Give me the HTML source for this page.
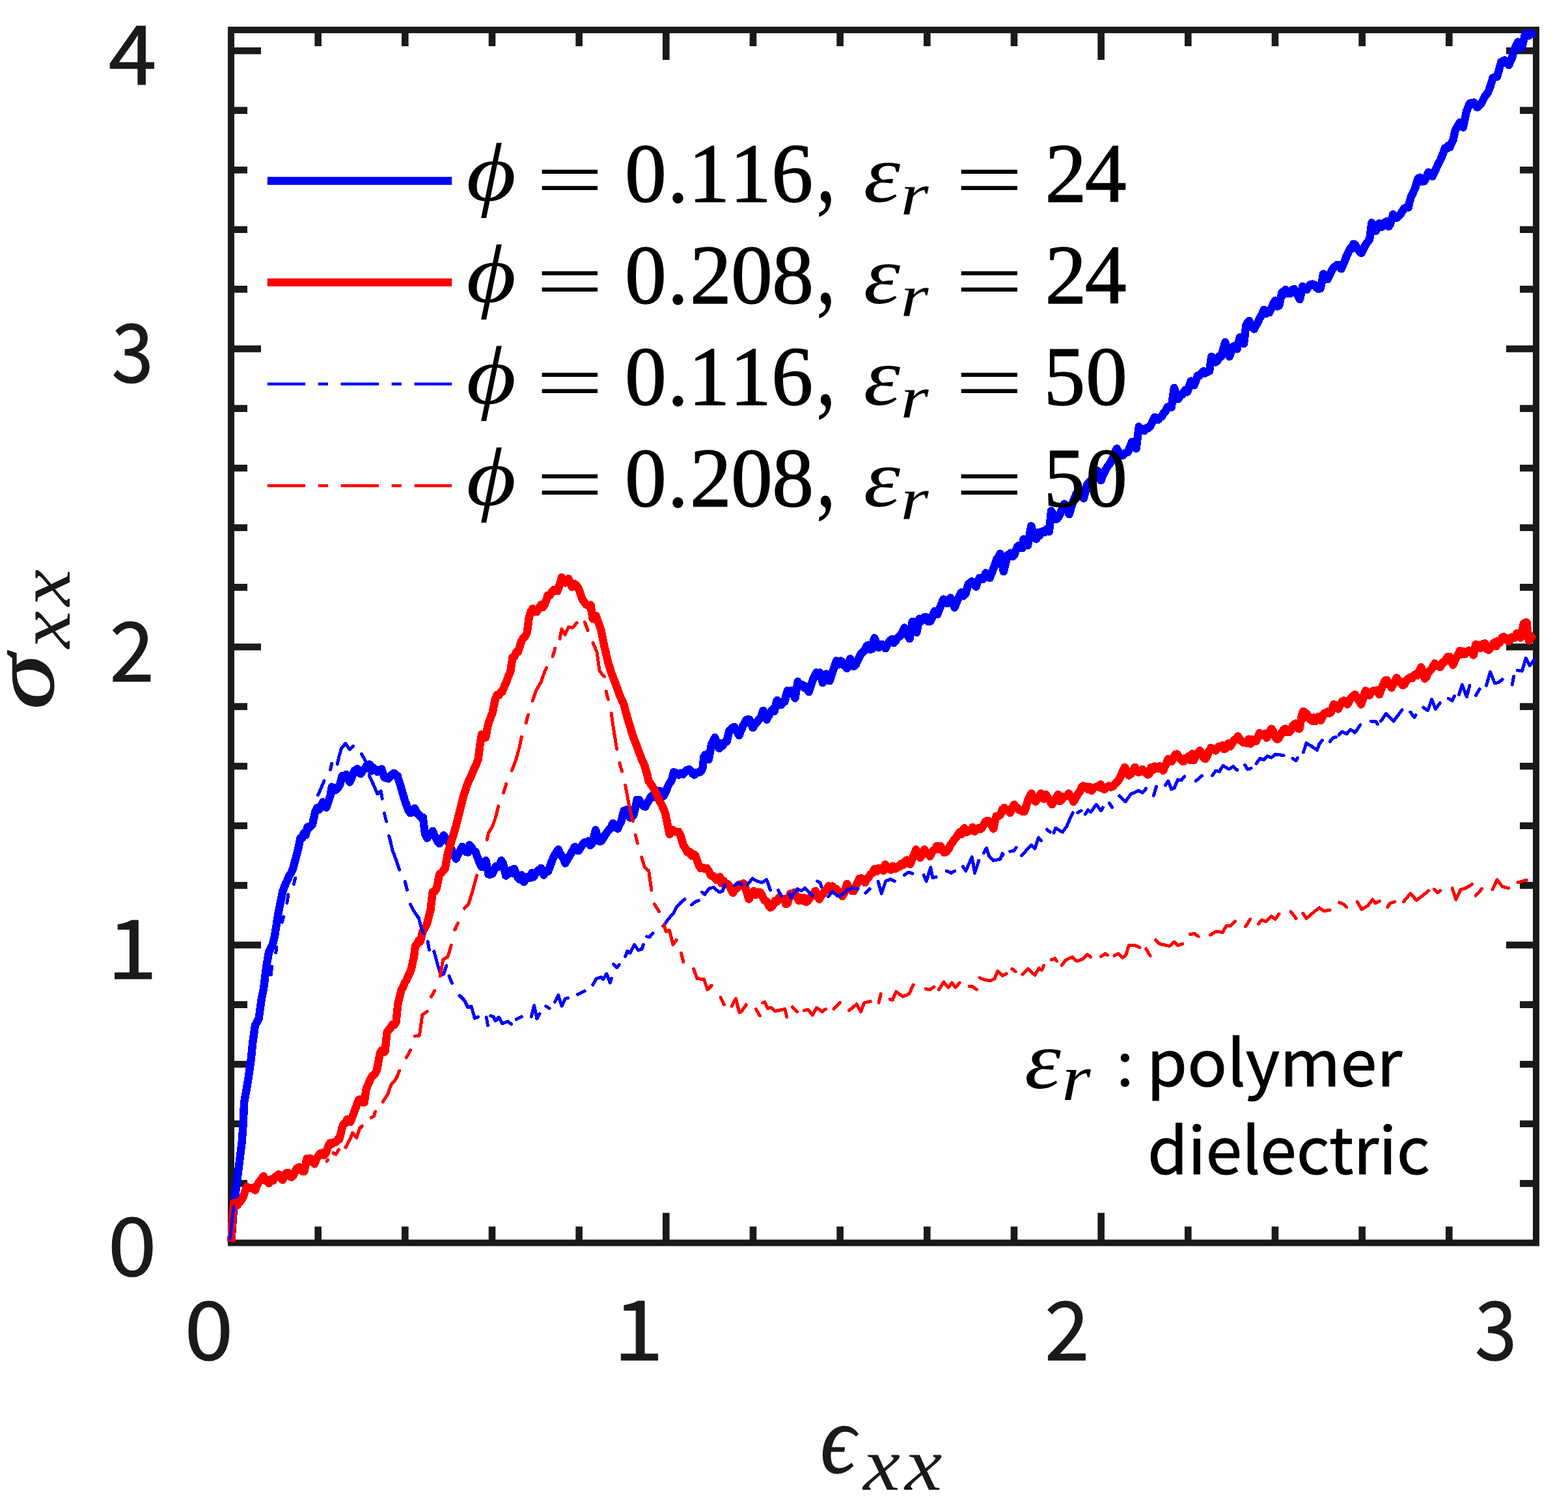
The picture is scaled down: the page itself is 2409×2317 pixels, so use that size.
<!DOCTYPE html>
<html lang="en"><head><meta charset="utf-8"><title>Stress-strain curves</title>
<style>html,body{margin:0;padding:0;background:#fefefe;}body{width:2409px;height:2317px;}svg{display:block;}text{white-space:pre;}</style></head><body>
<svg width="2409" height="2317" viewBox="0 0 2409 2317">
<rect x="0" y="0" width="2409" height="2317" fill="#fefefe"/>
<path d="M488.67 1909.60V1884.60M488.67 46.00V71.00M622.33 1909.60V1884.60M622.33 46.00V71.00M756.00 1909.60V1884.60M756.00 46.00V71.00M889.67 1909.60V1884.60M889.67 46.00V71.00M1023.33 1909.60V1863.60M1023.33 46.00V92.00M1157.00 1909.60V1884.60M1157.00 46.00V71.00M1290.67 1909.60V1884.60M1290.67 46.00V71.00M1424.33 1909.60V1884.60M1424.33 46.00V71.00M1558.00 1909.60V1884.60M1558.00 46.00V71.00M1691.67 1909.60V1863.60M1691.67 46.00V92.00M1825.33 1909.60V1884.60M1825.33 46.00V71.00M1959.00 1909.60V1884.60M1959.00 46.00V71.00M2092.67 1909.60V1884.60M2092.67 46.00V71.00M2226.33 1909.60V1884.60M2226.33 46.00V71.00M355.00 1818.40H380.00M2360.00 1818.40H2335.00M355.00 1726.80H380.00M2360.00 1726.80H2335.00M355.00 1635.20H380.00M2360.00 1635.20H2335.00M355.00 1543.60H380.00M2360.00 1543.60H2335.00M355.00 1452.00H401.00M2360.00 1452.00H2314.00M355.00 1360.40H380.00M2360.00 1360.40H2335.00M355.00 1268.80H380.00M2360.00 1268.80H2335.00M355.00 1177.20H380.00M2360.00 1177.20H2335.00M355.00 1085.60H380.00M2360.00 1085.60H2335.00M355.00 994.00H401.00M2360.00 994.00H2314.00M355.00 902.40H380.00M2360.00 902.40H2335.00M355.00 810.80H380.00M2360.00 810.80H2335.00M355.00 719.20H380.00M2360.00 719.20H2335.00M355.00 627.60H380.00M2360.00 627.60H2335.00M355.00 536.00H401.00M2360.00 536.00H2314.00M355.00 444.40H380.00M2360.00 444.40H2335.00M355.00 352.80H380.00M2360.00 352.80H2335.00M355.00 261.20H380.00M2360.00 261.20H2335.00M355.00 169.60H380.00M2360.00 169.60H2335.00M355.00 78.00H401.00M2360.00 78.00H2314.00" stroke="#1a1a1a" stroke-width="10.6" fill="none"/>
<rect x="355.00" y="46.00" width="2005.00" height="1863.60" fill="none" stroke="#1a1a1a" stroke-width="10"/>
<g fill="none" stroke-linejoin="round" stroke-linecap="butt" shape-rendering="crispEdges">
<path d="M355.3 1908.3 L358.0 1870.1 L361.2 1838.3 L363.9 1817.0 L366.5 1795.9 L369.2 1774.7 L371.8 1753.4 L374.0 1721.6 L375.0 1694.0 L378.2 1677.0 L381.4 1657.9 L383.5 1643.0 L385.6 1628.2 L388.4 1600.6 L390.2 1587.9 L392.0 1575.2 L394.9 1570.2 L397.7 1564.6 L399.6 1550.7 L401.5 1537.0 L403.2 1528.2 L404.9 1520.0 L406.9 1503.4 L409.0 1486.7 L411.0 1474.9 L413.0 1463.3 L415.9 1456.8 L418.7 1451.7 L421.7 1440.0 L424.5 1422.7 L427.2 1405.0 L429.5 1393.3 L431.9 1381.8 L434.2 1370.0 L436.3 1364.1 L438.5 1358.3 L441.4 1352.8 L444.3 1345.7 L447.2 1341.2 L450.1 1335.0 L452.7 1325.2 L455.4 1314.7 L458.0 1304.6 L459.7 1296.3 L461.4 1287.6 L464.1 1288.0 L466.8 1280.2 L469.4 1283.4 L472.6 1270.7 L475.1 1271.9 L477.6 1268.8 L480.1 1266.4 L482.2 1256.7 L484.3 1247.3 L487.1 1241.3 L490.0 1244.1 L492.8 1238.8 L496.0 1232.5 L498.6 1236.6 L501.3 1241.0 L504.5 1231.7 L507.6 1221.9 L509.8 1209.1 L512.9 1214.8 L516.1 1213.4 L519.3 1210.2 L522.5 1204.9 L525.7 1192.1 L528.9 1196.2 L532.0 1190.0 L534.7 1195.6 L537.3 1201.7 L539.8 1196.3 L542.3 1189.6 L544.8 1183.7 L546.9 1187.3 L549.0 1181.5 L551.7 1187.0 L554.3 1189.0 L557.5 1183.0 L560.7 1181.5 L562.8 1177.0 L564.9 1177.3 L567.8 1174.4 L570.6 1184.6 L573.4 1179.4 L576.6 1182.2 L579.8 1185.8 L583.0 1184.8 L586.2 1181.5 L588.3 1187.6 L590.4 1194.3 L593.6 1195.4 L596.8 1196.4 L599.6 1192.8 L602.4 1189.7 L605.3 1187.9 L607.9 1190.7 L610.6 1192.1 L613.2 1200.7 L615.9 1209.1 L619.0 1220.2 L622.2 1230.3 L624.9 1238.0 L627.5 1245.2 L630.7 1249.3 L633.9 1247.4 L637.1 1242.0 L640.3 1248.8 L643.4 1251.6 L646.6 1255.3 L649.8 1255.8 L653.0 1281.3 L656.2 1287.6 L659.0 1282.3 L661.8 1282.5 L664.7 1277.0 L667.3 1283.6 L670.0 1287.6 L672.6 1293.4 L675.3 1296.1 L678.5 1289.9 L681.6 1283.4 L684.8 1288.7 L688.0 1291.9 L690.7 1297.7 L693.3 1304.6 L695.8 1310.5 L698.3 1314.7 L700.7 1319.5 L703.9 1312.5 L707.1 1306.7 L710.3 1300.9 L713.5 1306.7 L716.1 1309.2 L718.8 1309.4 L721.4 1298.3 L724.1 1301.4 L727.3 1306.9 L730.5 1308.9 L733.6 1317.2 L736.8 1325.8 L740.0 1332.2 L743.2 1325.8 L746.4 1322.2 L748.5 1332.7 L750.6 1343.4 L753.4 1343.6 L756.3 1342.4 L759.1 1337.0 L761.9 1331.1 L764.8 1332.1 L767.6 1328.5 L770.2 1322.2 L772.9 1326.4 L775.0 1336.1 L777.1 1345.5 L779.6 1341.7 L782.1 1342.1 L784.6 1337.0 L787.2 1341.5 L789.9 1334.9 L792.5 1341.3 L795.2 1347.6 L798.4 1351.4 L801.5 1344.5 L804.7 1355.1 L807.2 1351.3 L809.7 1347.3 L812.1 1347.6 L814.6 1349.0 L817.1 1341.3 L819.6 1347.6 L822.1 1342.8 L824.5 1340.2 L827.0 1337.0 L829.1 1336.4 L831.2 1333.8 L833.4 1338.5 L835.5 1344.5 L838.7 1338.2 L841.9 1339.2 L845.0 1331.3 L848.2 1322.2 L851.4 1315.3 L854.6 1309.4 L857.8 1305.2 L860.2 1311.0 L862.7 1315.0 L865.2 1317.9 L868.4 1326.4 L871.6 1320.7 L874.7 1315.8 L877.6 1310.7 L880.4 1306.0 L883.2 1301.0 L885.9 1304.9 L888.5 1307.3 L891.4 1303.5 L894.2 1299.1 L897.0 1294.6 L900.2 1295.0 L903.4 1292.5 L906.6 1298.8 L909.8 1295.6 L912.4 1285.6 L915.1 1275.5 L917.7 1283.9 L920.4 1292.5 L923.6 1292.4 L926.7 1288.2 L929.6 1282.9 L932.4 1278.9 L935.2 1275.5 L938.4 1271.9 L941.6 1264.9 L944.1 1267.8 L946.5 1270.8 L949.0 1273.4 L951.7 1266.8 L954.3 1262.8 L956.4 1254.2 L958.6 1245.8 L960.7 1245.6 L962.8 1243.7 L965.5 1249.1 L968.1 1256.4 L970.8 1255.2 L973.4 1252.1 L976.1 1240.6 L978.7 1228.8 L981.9 1229.0 L985.1 1235.2 L988.3 1238.5 L991.5 1239.4 L993.9 1234.7 L996.4 1230.8 L998.9 1225.6 L1001.5 1222.7 L1004.2 1225.2 L1006.8 1224.2 L1009.5 1220.3 L1012.1 1214.7 L1014.8 1215.7 L1017.5 1224.2 L1020.1 1222.4 L1022.8 1217.0 L1025.4 1209.7 L1028.6 1203.5 L1031.8 1199.1 L1035.0 1186.4 L1037.8 1187.3 L1040.6 1190.2 L1043.4 1190.6 L1046.6 1187.7 L1049.8 1189.5 L1052.6 1186.0 L1055.5 1183.2 L1058.3 1182.1 L1061.1 1184.1 L1064.0 1188.4 L1066.8 1190.6 L1069.6 1187.0 L1072.4 1186.5 L1075.3 1186.4 L1077.4 1184.3 L1079.5 1180.0 L1081.4 1162.9 L1083.9 1159.5 L1086.3 1166.4 L1088.8 1167.1 L1090.9 1155.5 L1093.1 1143.8 L1095.7 1138.0 L1098.4 1133.2 L1100.5 1139.1 L1102.6 1145.9 L1105.1 1150.0 L1107.6 1142.4 L1110.0 1145.9 L1113.2 1140.6 L1116.4 1139.5 L1118.5 1131.0 L1120.6 1122.5 L1122.8 1121.8 L1124.9 1118.3 L1128.1 1116.7 L1131.2 1122.5 L1133.4 1125.7 L1135.5 1130.0 L1138.7 1121.7 L1141.9 1114.1 L1144.0 1111.4 L1146.1 1106.6 L1148.8 1105.3 L1151.4 1105.6 L1154.1 1112.6 L1156.7 1118.3 L1159.9 1112.5 L1163.1 1109.8 L1165.7 1105.7 L1168.4 1103.4 L1170.5 1097.8 L1172.6 1091.8 L1175.3 1099.3 L1177.9 1105.6 L1181.1 1099.6 L1184.3 1093.9 L1186.9 1089.8 L1189.6 1092.8 L1191.7 1084.1 L1193.8 1075.9 L1197.0 1079.7 L1200.2 1083.3 L1202.9 1078.6 L1205.5 1078.0 L1207.6 1069.7 L1209.8 1061.0 L1212.9 1065.6 L1216.1 1061.0 L1218.8 1066.1 L1221.4 1072.7 L1223.6 1059.9 L1225.7 1047.2 L1228.2 1051.7 L1230.6 1052.0 L1233.1 1052.5 L1235.8 1057.1 L1238.4 1054.6 L1240.5 1058.5 L1242.7 1063.1 L1245.8 1053.1 L1249.0 1044.0 L1251.7 1038.2 L1254.3 1033.4 L1257.0 1037.4 L1259.6 1033.4 L1261.8 1041.2 L1263.9 1049.3 L1266.5 1042.2 L1269.2 1035.5 L1271.8 1040.6 L1274.5 1046.2 L1277.0 1039.0 L1279.4 1031.9 L1281.9 1024.9 L1285.1 1015.4 L1288.3 1021.0 L1291.5 1015.4 L1294.1 1017.5 L1296.8 1022.8 L1298.9 1021.6 L1301.0 1027.1 L1303.7 1020.3 L1306.3 1012.2 L1309.0 1018.9 L1311.6 1023.9 L1314.8 1021.1 L1318.0 1014.3 L1320.6 1008.8 L1323.3 1003.7 L1326.1 1001.9 L1328.9 997.9 L1331.8 992.0 L1334.3 991.3 L1336.7 997.8 L1339.2 997.3 L1341.3 989.1 L1343.4 980.4 L1346.6 988.1 L1349.8 995.2 L1352.5 992.7 L1355.1 989.9 L1357.8 991.9 L1360.4 996.3 L1363.1 991.0 L1365.7 986.7 L1368.2 983.5 L1370.7 981.8 L1373.2 987.8 L1376.0 985.1 L1378.8 980.2 L1381.6 978.2 L1384.3 975.2 L1386.9 969.8 L1389.6 964.4 L1392.3 970.8 L1394.9 977.2 L1397.6 981.4 L1399.7 968.2 L1401.8 954.9 L1405.0 964.1 L1408.2 971.9 L1410.3 961.5 L1412.4 950.7 L1414.9 954.9 L1417.4 950.2 L1419.8 948.5 L1423.0 948.5 L1426.2 954.9 L1428.9 954.8 L1431.5 950.7 L1433.6 944.3 L1435.8 939.0 L1437.9 940.6 L1440.0 944.3 L1442.1 939.2 L1444.2 933.5 L1446.9 927.2 L1449.5 920.7 L1452.2 923.5 L1454.9 927.1 L1457.5 924.5 L1460.2 918.6 L1463.3 926.3 L1466.5 933.5 L1469.2 926.8 L1471.8 920.7 L1474.5 914.8 L1477.1 910.1 L1480.3 915.6 L1483.5 912.3 L1485.6 904.8 L1487.7 897.4 L1490.4 897.6 L1493.1 893.2 L1496.2 896.7 L1499.4 901.6 L1502.1 894.2 L1504.7 887.9 L1507.4 889.3 L1510.0 890.0 L1512.1 885.9 L1514.3 880.4 L1517.5 882.3 L1520.6 887.9 L1523.8 880.4 L1527.0 871.9 L1529.1 866.1 L1531.2 859.2 L1533.9 856.1 L1536.6 850.7 L1539.2 864.7 L1541.9 878.3 L1545.0 865.2 L1548.2 852.8 L1550.3 852.4 L1552.5 849.7 L1555.6 855.1 L1558.8 851.8 L1561.0 845.2 L1563.1 840.1 L1565.6 838.0 L1568.0 838.6 L1570.5 842.2 L1572.6 828.4 L1575.8 833.3 L1579.0 838.0 L1581.6 823.1 L1584.3 808.3 L1586.9 817.3 L1589.6 826.3 L1592.1 828.4 L1594.6 818.5 L1597.0 823.1 L1599.9 817.1 L1602.7 816.0 L1605.5 817.8 L1608.7 812.4 L1611.9 816.8 L1615.1 784.9 L1618.2 790.1 L1621.4 797.7 L1623.9 797.6 L1626.4 794.1 L1628.9 789.2 L1632.0 780.9 L1635.2 774.3 L1637.7 779.6 L1640.2 784.5 L1642.7 790.2 L1645.8 779.9 L1649.0 770.1 L1651.7 763.4 L1654.3 757.3 L1657.0 760.7 L1659.6 762.3 L1662.3 762.6 L1664.9 765.8 L1667.6 755.0 L1670.2 744.6 L1672.7 741.8 L1675.2 738.5 L1677.7 742.5 L1680.5 736.3 L1683.3 730.2 L1686.2 723.4 L1688.8 730.6 L1691.5 738.2 L1693.9 731.7 L1696.4 726.2 L1698.9 721.3 L1701.7 716.5 L1704.5 713.2 L1707.4 708.5 L1710.2 702.8 L1713.0 695.5 L1715.9 689.4 L1718.7 694.6 L1721.5 697.2 L1724.4 700.1 L1727.2 697.6 L1730.0 695.3 L1732.8 694.7 L1736.0 686.8 L1739.2 678.8 L1742.4 684.9 L1745.6 689.4 L1747.7 672.5 L1749.8 655.5 L1752.6 659.3 L1755.5 659.4 L1758.3 661.9 L1761.1 657.5 L1764.0 657.9 L1766.8 655.5 L1768.9 651.8 L1771.0 647.0 L1773.9 640.9 L1776.7 644.6 L1779.5 644.9 L1782.4 641.0 L1785.2 639.8 L1788.0 634.3 L1790.7 631.7 L1793.3 625.8 L1796.5 624.1 L1799.7 625.8 L1801.8 611.0 L1803.9 596.1 L1807.1 605.0 L1810.3 613.1 L1812.8 608.8 L1815.2 607.2 L1817.7 604.6 L1820.9 598.9 L1824.1 602.4 L1826.7 594.3 L1829.4 585.5 L1832.0 589.5 L1834.7 591.8 L1837.3 585.0 L1840.0 577.0 L1842.8 577.2 L1845.7 573.9 L1848.5 570.3 L1851.7 573.4 L1854.9 571.1 L1858.0 570.3 L1861.2 548.0 L1864.4 550.3 L1867.6 556.5 L1870.4 554.3 L1873.2 547.5 L1876.1 548.0 L1879.3 536.5 L1882.4 525.7 L1885.6 537.1 L1888.8 548.0 L1892.0 539.2 L1895.2 532.1 L1897.8 530.9 L1900.5 536.3 L1902.6 527.0 L1904.7 518.3 L1907.9 524.7 L1911.1 527.9 L1914.3 500.3 L1916.7 495.6 L1919.2 492.9 L1921.7 498.1 L1924.4 503.4 L1927.0 505.6 L1929.5 499.6 L1932.0 496.6 L1934.4 490.7 L1936.9 486.2 L1939.4 481.7 L1941.9 475.9 L1944.7 482.1 L1947.5 479.5 L1950.3 480.1 L1953.5 473.3 L1956.7 465.3 L1959.5 461.7 L1962.4 471.0 L1965.2 469.5 L1967.3 459.4 L1969.4 449.3 L1972.3 452.5 L1975.1 444.8 L1977.9 450.4 L1980.4 450.8 L1982.9 450.7 L1985.4 445.1 L1988.5 444.3 L1991.7 450.4 L1994.4 454.6 L1997.0 459.9 L1999.2 449.9 L2001.3 439.8 L2004.5 445.0 L2007.6 445.1 L2010.5 440.5 L2013.3 437.3 L2016.1 436.6 L2019.3 437.3 L2022.5 441.9 L2025.7 444.0 L2028.9 443.0 L2031.0 431.9 L2033.1 420.7 L2036.3 424.4 L2039.5 429.2 L2041.9 423.9 L2044.4 419.0 L2046.9 414.3 L2049.4 410.8 L2051.8 408.8 L2054.3 406.9 L2057.5 407.3 L2060.7 413.3 L2063.2 407.3 L2065.6 402.2 L2068.1 395.2 L2071.3 388.1 L2074.5 381.4 L2077.0 381.9 L2079.4 374.9 L2081.9 376.1 L2085.1 381.3 L2088.3 385.9 L2091.5 388.9 L2094.6 383.0 L2097.8 376.1 L2101.0 372.0 L2104.2 367.6 L2107.4 342.2 L2110.6 348.5 L2113.7 354.9 L2116.4 349.4 L2119.0 343.2 L2122.2 349.1 L2125.4 346.4 L2128.1 341.4 L2130.7 340.1 L2133.4 348.0 L2136.0 344.3 L2138.1 337.3 L2140.3 329.4 L2143.4 332.2 L2146.6 334.7 L2149.1 331.3 L2151.6 329.5 L2154.1 325.2 L2157.2 320.2 L2160.4 318.8 L2163.6 318.8 L2165.7 310.1 L2167.9 301.9 L2171.0 295.7 L2174.2 289.1 L2176.3 281.5 L2178.5 274.3 L2181.6 272.7 L2184.8 279.2 L2188.0 278.5 L2191.2 272.7 L2194.4 264.7 L2197.6 266.5 L2200.7 271.1 L2203.9 264.7 L2207.1 257.3 L2210.3 250.7 L2213.5 244.6 L2216.7 236.7 L2219.8 227.6 L2222.3 228.3 L2224.8 223.8 L2227.3 226.5 L2229.9 220.0 L2232.6 214.9 L2235.8 200.0 L2242.8 188.1 L2247.9 195.7 L2250.4 184.2 L2252.9 171.5 L2258.0 158.8 L2264.4 157.5 L2269.5 165.1 L2275.9 158.8 L2281.0 148.6 L2286.0 142.2 L2289.9 132.0 L2293.7 119.3 L2300.1 118.0 L2303.9 104.0 L2306.4 95.1 L2311.5 92.6 L2317.9 100.2 L2323.0 88.8 L2326.8 76.0 L2331.9 64.6 L2338.2 73.5 L2340.8 62.0 L2343.3 51.8 L2348.4 55.0 L2353.5 51.8 L2358.0 48.3" stroke="#0000ff" stroke-width="12.4"/>
<path d="M355.3 1908.3 L356.6 1880.7 L358.0 1859.5 L359.5 1847.9 L362.0 1848.6 L364.4 1852.1 L366.5 1847.6 L368.6 1846.8 L371.3 1843.1 L374.0 1838.3 L376.6 1830.2 L379.3 1823.4 L382.4 1824.9 L385.6 1825.6 L388.8 1825.7 L392.0 1828.8 L394.6 1821.9 L397.3 1817.1 L399.4 1814.5 L401.5 1811.8 L404.7 1807.2 L407.9 1813.9 L410.6 1815.5 L413.2 1818.1 L416.4 1812.0 L419.6 1813.9 L422.4 1808.3 L425.2 1807.1 L428.1 1804.4 L431.2 1810.2 L434.4 1812.8 L437.1 1806.5 L439.7 1802.2 L442.6 1802.0 L445.4 1807.6 L448.2 1808.6 L450.7 1805.9 L453.2 1800.4 L455.6 1795.9 L458.8 1793.6 L462.0 1793.7 L464.7 1799.5 L467.3 1800.1 L469.4 1789.8 L471.6 1779.9 L474.0 1785.1 L476.5 1779.7 L479.0 1783.1 L481.1 1783.9 L483.2 1788.4 L485.9 1781.7 L488.5 1776.8 L491.7 1772.6 L494.9 1771.5 L498.1 1775.1 L501.3 1770.4 L504.5 1760.8 L507.6 1755.8 L510.8 1757.4 L514.0 1754.5 L516.5 1754.5 L519.0 1750.4 L521.4 1750.2 L523.6 1741.3 L525.7 1732.2 L528.3 1726.6 L531.0 1725.8 L533.5 1719.7 L535.9 1720.8 L538.4 1723.7 L541.6 1715.5 L544.8 1706.7 L548.0 1698.1 L551.1 1689.8 L554.0 1689.2 L556.8 1693.5 L559.6 1694.0 L562.8 1672.8 L566.0 1665.3 L569.2 1657.9 L572.4 1652.7 L575.5 1650.9 L578.7 1645.2 L581.4 1631.5 L584.0 1617.6 L586.5 1613.7 L589.0 1617.1 L591.5 1615.5 L594.6 1585.8 L597.5 1582.0 L600.3 1579.7 L603.1 1574.1 L605.8 1574.8 L608.4 1570.9 L611.6 1541.2 L614.3 1530.4 L616.9 1520.0 L619.4 1516.9 L621.9 1509.7 L624.4 1506.2 L626.8 1500.4 L629.3 1495.4 L631.8 1489.2 L633.9 1479.5 L636.0 1470.1 L638.1 1453.2 L640.6 1450.9 L643.1 1445.3 L645.6 1446.8 L647.7 1438.4 L649.8 1429.8 L653.0 1425.5 L656.2 1419.2 L658.8 1408.7 L661.5 1398.0 L664.7 1370.4 L667.9 1369.7 L671.0 1364.0 L673.2 1353.3 L675.3 1342.8 L678.1 1341.3 L680.9 1337.8 L683.8 1334.3 L685.9 1322.7 L688.0 1311.0 L691.2 1300.3 L694.4 1289.8 L697.6 1279.5 L700.7 1268.5 L703.4 1258.3 L706.0 1247.3 L709.2 1234.6 L712.4 1221.9 L714.9 1215.0 L717.4 1207.1 L719.8 1200.6 L722.7 1194.7 L725.5 1188.2 L728.3 1181.5 L731.5 1175.1 L734.7 1166.7 L737.9 1141.2 L740.0 1128.5 L743.1 1133.6 L746.1 1133.2 L748.2 1122.4 L750.3 1111.9 L753.5 1103.3 L756.7 1095.0 L758.8 1084.4 L761.0 1073.7 L763.6 1067.9 L766.3 1068.2 L768.9 1063.6 L771.6 1063.1 L774.7 1054.9 L777.9 1048.3 L781.1 1039.1 L784.3 1031.3 L787.5 1010.1 L790.3 1009.1 L793.1 1001.9 L796.0 1001.6 L798.6 992.8 L801.3 984.6 L804.1 979.9 L806.9 977.7 L809.8 971.9 L812.9 948.5 L815.1 941.1 L818.2 935.2 L821.4 939.7 L824.6 940.1 L827.8 934.9 L831.0 929.4 L834.2 933.0 L837.3 927.3 L839.5 921.4 L841.6 914.6 L844.8 914.8 L848.0 909.3 L850.8 906.0 L853.6 907.5 L856.4 908.2 L858.6 901.7 L860.7 895.5 L862.8 887.0 L865.5 892.7 L868.1 895.5 L870.8 894.8 L873.4 889.1 L876.1 894.8 L878.7 901.9 L881.9 896.8 L885.1 898.7 L887.7 902.6 L890.4 908.2 L892.5 914.2 L894.6 921.0 L897.8 925.1 L901.0 929.4 L904.2 930.6 L907.4 929.4 L910.6 950.7 L913.0 948.4 L915.5 945.9 L918.0 952.8 L920.6 960.1 L923.3 967.6 L925.4 978.2 L927.5 988.9 L930.2 1000.6 L932.8 1012.2 L936.0 1023.3 L939.2 1033.4 L942.4 1042.2 L945.6 1050.4 L948.8 1058.9 L951.9 1067.4 L955.1 1075.0 L958.3 1082.2 L961.5 1094.1 L964.7 1105.6 L967.9 1115.7 L971.0 1126.8 L974.2 1135.9 L977.4 1143.8 L980.6 1152.7 L983.8 1160.7 L986.9 1169.0 L990.1 1175.6 L992.3 1183.3 L994.4 1190.5 L996.5 1200.0 L998.7 1202.8 L1000.9 1206.0 L1003.1 1209.7 L1006.3 1215.0 L1009.5 1222.4 L1012.7 1229.2 L1015.9 1235.2 L1019.0 1241.7 L1022.2 1250.0 L1024.4 1260.4 L1026.5 1271.2 L1028.6 1281.9 L1031.4 1277.3 L1034.3 1275.4 L1037.1 1277.6 L1039.9 1278.4 L1042.7 1278.0 L1045.6 1284.0 L1047.7 1290.9 L1049.8 1298.8 L1053.0 1302.9 L1056.2 1309.4 L1059.4 1308.9 L1062.5 1314.7 L1065.2 1312.5 L1067.9 1313.7 L1070.5 1320.4 L1073.2 1328.5 L1076.3 1334.1 L1079.5 1332.8 L1082.7 1334.8 L1085.9 1333.8 L1089.1 1338.6 L1092.3 1345.5 L1095.1 1345.5 L1097.9 1348.4 L1100.7 1351.9 L1103.4 1350.3 L1106.0 1347.4 L1108.7 1357.3 L1111.4 1352.9 L1114.2 1359.2 L1117.0 1357.6 L1119.8 1360.4 L1123.0 1366.2 L1126.2 1372.0 L1129.4 1366.0 L1132.6 1364.6 L1135.0 1359.2 L1137.5 1360.2 L1140.0 1360.4 L1142.1 1357.2 L1144.2 1360.4 L1147.4 1371.3 L1150.6 1381.6 L1153.1 1376.2 L1155.6 1371.5 L1158.0 1368.9 L1161.2 1375.3 L1164.4 1370.6 L1167.6 1371.0 L1170.1 1374.0 L1172.5 1379.6 L1175.0 1383.7 L1177.8 1384.8 L1180.7 1390.9 L1183.5 1394.3 L1186.0 1392.9 L1188.5 1388.9 L1190.9 1383.7 L1193.8 1385.5 L1196.6 1379.3 L1199.4 1381.6 L1202.1 1381.9 L1204.7 1381.5 L1207.4 1389.1 L1210.0 1388.0 L1212.1 1380.6 L1214.3 1373.1 L1217.5 1375.4 L1220.6 1371.0 L1223.8 1376.9 L1227.0 1383.7 L1229.8 1379.3 L1232.7 1384.2 L1235.5 1379.5 L1238.3 1386.0 L1241.1 1384.2 L1244.0 1379.5 L1246.8 1377.5 L1249.6 1374.1 L1252.5 1368.9 L1255.6 1375.9 L1258.8 1381.6 L1261.7 1376.2 L1264.5 1373.2 L1267.3 1368.9 L1270.2 1366.3 L1273.0 1361.5 L1275.8 1366.7 L1279.0 1361.6 L1282.2 1365.5 L1285.4 1366.1 L1288.5 1369.9 L1291.4 1373.1 L1294.2 1377.1 L1297.0 1372.0 L1299.2 1365.1 L1301.3 1358.2 L1303.9 1363.8 L1306.6 1366.8 L1309.2 1369.3 L1311.9 1368.9 L1314.7 1362.2 L1317.5 1355.5 L1320.4 1349.8 L1323.2 1349.5 L1326.0 1351.4 L1328.9 1356.1 L1331.7 1350.7 L1334.5 1348.2 L1337.3 1343.4 L1340.5 1341.1 L1343.7 1334.9 L1346.4 1339.2 L1349.0 1334.1 L1351.7 1336.1 L1354.3 1333.8 L1357.2 1337.9 L1360.0 1328.3 L1362.8 1333.8 L1365.6 1334.7 L1368.5 1336.6 L1371.3 1330.7 L1374.0 1334.7 L1376.6 1334.5 L1379.3 1331.2 L1381.9 1331.7 L1384.7 1326.8 L1387.6 1329.0 L1390.4 1324.3 L1393.1 1321.4 L1395.7 1326.4 L1398.4 1327.7 L1401.0 1321.1 L1404.2 1313.0 L1407.4 1305.2 L1410.6 1311.3 L1413.7 1317.9 L1416.9 1312.8 L1420.1 1305.2 L1422.9 1309.9 L1425.8 1310.5 L1428.6 1315.8 L1431.2 1310.3 L1433.9 1306.4 L1436.6 1305.5 L1439.2 1299.9 L1442.0 1304.6 L1444.9 1300.0 L1447.7 1305.2 L1450.9 1310.3 L1454.1 1308.4 L1457.2 1304.8 L1460.4 1297.8 L1463.1 1295.1 L1465.7 1290.1 L1468.4 1287.7 L1471.0 1284.0 L1474.2 1278.5 L1477.4 1281.9 L1479.5 1276.0 L1481.6 1272.3 L1484.5 1278.8 L1487.3 1276.7 L1490.1 1276.6 L1492.3 1274.0 L1494.4 1271.2 L1497.6 1277.5 L1500.7 1274.4 L1503.4 1272.0 L1506.0 1274.1 L1508.7 1271.8 L1511.4 1267.0 L1514.2 1262.4 L1517.0 1261.1 L1519.8 1261.7 L1523.0 1266.9 L1526.2 1273.4 L1528.3 1263.7 L1530.5 1254.3 L1533.6 1254.3 L1536.8 1252.1 L1540.0 1243.7 L1543.2 1241.0 L1546.4 1244.6 L1549.0 1246.0 L1551.7 1248.8 L1554.9 1241.5 L1558.0 1236.1 L1560.5 1241.3 L1563.0 1240.9 L1565.5 1244.6 L1568.3 1244.8 L1571.1 1247.1 L1574.0 1246.7 L1576.6 1238.7 L1579.3 1229.7 L1581.9 1224.2 L1584.6 1219.1 L1587.7 1226.6 L1590.9 1231.9 L1593.8 1227.6 L1596.6 1223.5 L1599.4 1219.1 L1601.5 1223.4 L1603.7 1227.6 L1606.8 1220.7 L1610.0 1225.5 L1613.2 1230.6 L1616.4 1236.1 L1619.6 1229.7 L1622.8 1225.5 L1625.6 1220.7 L1628.4 1231.1 L1631.2 1228.7 L1633.9 1223.9 L1636.6 1223.7 L1639.2 1223.2 L1641.9 1219.1 L1644.3 1223.6 L1646.8 1227.0 L1649.3 1231.9 L1651.8 1227.7 L1654.2 1223.6 L1656.7 1219.1 L1659.2 1216.3 L1661.7 1209.8 L1664.1 1207.5 L1666.6 1209.8 L1669.1 1208.8 L1671.6 1212.8 L1674.4 1209.2 L1677.2 1214.8 L1680.1 1210.6 L1682.7 1209.4 L1685.4 1208.6 L1688.0 1209.5 L1690.7 1205.3 L1693.8 1211.4 L1697.0 1212.8 L1700.2 1209.7 L1703.4 1207.5 L1706.6 1209.5 L1709.8 1208.5 L1712.4 1205.4 L1715.1 1202.2 L1717.7 1200.0 L1720.4 1195.8 L1722.8 1190.0 L1725.3 1184.5 L1727.8 1178.8 L1731.0 1185.1 L1734.2 1191.5 L1737.3 1189.4 L1740.5 1184.0 L1743.7 1178.8 L1746.5 1184.2 L1749.4 1186.9 L1752.2 1185.2 L1755.0 1181.9 L1757.9 1186.0 L1760.7 1185.2 L1763.3 1190.4 L1766.0 1188.5 L1768.6 1178.9 L1771.3 1183.1 L1773.8 1177.6 L1776.3 1180.9 L1778.7 1180.9 L1781.6 1177.0 L1784.4 1180.0 L1787.2 1184.1 L1789.7 1177.3 L1792.2 1172.4 L1794.6 1166.1 L1797.5 1169.0 L1800.3 1169.7 L1803.1 1164.0 L1805.8 1159.0 L1808.4 1158.6 L1811.6 1163.7 L1814.8 1167.3 L1818.0 1170.3 L1820.8 1165.1 L1823.6 1167.2 L1826.5 1161.8 L1829.1 1168.1 L1831.8 1158.1 L1834.4 1167.9 L1837.1 1161.8 L1840.3 1157.1 L1843.4 1153.3 L1846.3 1157.5 L1849.1 1163.9 L1851.9 1166.1 L1854.8 1161.3 L1857.6 1153.8 L1860.4 1149.1 L1862.9 1149.8 L1865.4 1152.1 L1867.9 1153.3 L1870.3 1150.0 L1872.8 1146.7 L1875.3 1147.0 L1878.1 1145.4 L1880.9 1151.2 L1883.8 1149.1 L1886.9 1142.2 L1890.1 1147.0 L1893.3 1141.9 L1896.5 1136.4 L1899.2 1136.1 L1901.8 1131.2 L1904.5 1135.8 L1907.1 1138.5 L1909.9 1141.0 L1912.8 1140.8 L1915.6 1141.7 L1918.4 1135.7 L1921.3 1142.8 L1924.1 1136.4 L1926.9 1138.1 L1929.7 1138.6 L1932.6 1132.1 L1935.0 1126.5 L1937.5 1127.8 L1940.0 1130.0 L1943.2 1127.3 L1946.3 1133.7 L1948.7 1129.8 L1951.0 1123.8 L1953.3 1119.7 L1955.7 1123.4 L1958.0 1128.9 L1960.3 1133.7 L1962.7 1136.0 L1965.0 1133.6 L1967.3 1129.1 L1969.7 1124.8 L1972.0 1121.2 L1974.4 1119.7 L1976.7 1125.2 L1979.0 1123.5 L1981.4 1124.4 L1983.7 1121.2 L1986.0 1115.2 L1988.4 1112.7 L1991.1 1111.6 L1993.8 1118.9 L1996.5 1119.7 L1998.3 1109.2 L2000.0 1098.7 L2002.4 1092.8 L2004.7 1102.5 L2007.0 1096.4 L2010.1 1101.0 L2013.3 1105.8 L2016.4 1108.1 L2018.7 1102.6 L2021.0 1108.3 L2023.4 1103.4 L2026.3 1100.9 L2029.2 1106.9 L2031.5 1102.4 L2033.9 1096.4 L2036.5 1095.5 L2039.1 1093.7 L2041.8 1096.2 L2044.4 1095.2 L2046.7 1089.5 L2049.0 1082.4 L2051.4 1083.2 L2053.7 1084.6 L2056.0 1089.4 L2059.0 1083.6 L2061.9 1077.7 L2064.6 1076.6 L2067.3 1076.9 L2070.1 1082.4 L2073.0 1076.9 L2075.9 1072.6 L2078.8 1069.5 L2081.7 1067.2 L2084.8 1071.6 L2087.9 1076.6 L2091.1 1082.4 L2093.4 1075.7 L2095.7 1068.1 L2098.1 1061.4 L2101.0 1064.9 L2103.9 1068.4 L2106.8 1063.1 L2109.7 1061.4 L2112.8 1061.8 L2116.0 1060.6 L2119.1 1067.2 L2122.0 1059.2 L2124.9 1052.0 L2127.8 1045.9 L2130.7 1045.0 L2133.1 1049.8 L2135.4 1053.0 L2137.7 1056.7 L2140.5 1050.7 L2143.2 1046.5 L2145.9 1041.5 L2149.0 1047.7 L2152.1 1047.3 L2155.3 1053.2 L2158.0 1051.3 L2160.7 1045.9 L2163.4 1042.7 L2166.5 1040.7 L2169.6 1042.0 L2172.8 1036.9 L2175.1 1036.1 L2177.4 1038.0 L2180.3 1031.6 L2183.3 1025.2 L2186.2 1034.2 L2189.1 1042.7 L2191.4 1040.5 L2193.8 1034.4 L2196.1 1031.0 L2198.8 1028.6 L2201.5 1024.2 L2204.3 1019.4 L2207.0 1022.5 L2209.7 1022.4 L2212.4 1025.2 L2214.8 1021.6 L2217.1 1017.2 L2219.4 1017.0 L2221.8 1012.2 L2224.1 1009.1 L2226.4 1008.9 L2229.4 1015.8 L2232.3 1021.7 L2235.0 1015.6 L2237.7 1009.9 L2240.5 1005.4 L2242.8 999.9 L2245.1 1005.4 L2247.5 1000.7 L2250.6 1005.2 L2253.7 1002.2 L2256.8 999.5 L2259.1 1000.4 L2261.5 1002.5 L2263.8 1006.5 L2265.5 998.2 L2267.3 990.2 L2269.6 991.8 L2272.0 991.4 L2274.3 996.0 L2276.6 992.3 L2279.0 989.0 L2281.6 988.6 L2284.2 996.8 L2286.8 998.7 L2289.5 996.0 L2291.8 993.1 L2294.1 988.6 L2296.5 986.7 L2298.8 993.2 L2301.1 985.0 L2303.5 987.9 L2305.8 984.0 L2308.1 979.2 L2310.5 978.5 L2312.8 980.1 L2315.1 983.0 L2317.5 985.5 L2319.8 983.6 L2322.1 979.3 L2324.5 979.7 L2327.4 979.7 L2330.3 973.0 L2333.2 976.5 L2336.2 979.7 L2338.5 968.9 L2340.8 958.7 L2343.2 956.4 L2345.5 956.3 L2347.2 970.3 L2349.0 984.4 L2351.7 977.7 L2354.4 981.0 L2357.2 983.2" stroke="#ff0000" stroke-width="12.4"/>
<path d="M706.0 1529.5 L713.5 1537.0 L718.8 1547.6 L724.1 1546.5 L729.4 1564.6 L734.7 1562.4 M416.4 1497.7 L417.5 1485.0 M423.8 1463.8 L424.9 1455.3 M433.4 1417.1 L435.5 1408.6 M440.8 1387.4 L442.9 1374.6 M451.4 1358.7 L453.5 1349.2 M488.5 1221.9 L498.1 1199.6 M507.6 1182.6 L509.8 1173.1 M518.2 1174.1 L521.4 1160.3 L524.6 1149.7 L531.0 1142.3 L537.3 1151.8 L542.7 1146.5 M555.4 1158.2 L561.8 1169.9 M567.1 1191.1 L573.4 1204.9 L579.8 1219.7 L585.1 1215.5 L587.2 1227.2 M590.4 1249.4 L593.6 1262.2 M597.8 1284.5 L603.1 1306.7 L609.5 1323.7 L613.7 1336.4 M622.2 1354.5 L625.4 1367.2 M630.7 1389.5 L636.0 1400.1 L643.4 1410.7 L647.7 1427.7 L650.9 1434.1 M657.2 1446.8 L659.4 1459.5 M666.8 1461.6 L673.2 1485.0 L677.4 1497.7 L681.6 1496.7 L685.9 1483.9 M690.1 1499.8 L694.4 1510.5 M747.4 1563.0 L749.5 1575.8 M753.8 1560.9 L758.0 1562.0 L761.2 1568.3 L766.5 1563.0 L771.8 1572.6 L780.3 1569.4 L785.6 1573.6 M793.1 1566.2 L801.5 1562.0 M816.4 1562.0 L820.6 1545.0 L824.9 1565.1 L829.1 1557.7 M838.7 1546.0 L844.0 1549.2 M852.5 1539.7 L857.8 1529.1 L863.1 1546.0 L868.4 1534.4 L872.6 1533.3 M887.5 1528.0 L898.1 1522.7 M910.8 1513.2 L916.1 1503.6 L923.6 1501.5 L926.7 1504.7 L932.0 1496.2 L937.3 1510.0 L939.5 1503.6 M942.7 1481.3 L948.0 1486.6 L951.1 1482.4 M960.7 1469.7 L963.9 1461.2 L968.1 1464.4 L974.5 1451.6 L980.8 1460.1 L986.2 1458.0 L988.3 1451.6 M993.6 1438.9 L997.8 1439.9 L1003.1 1433.6 M1019.0 1423.0 L1026.5 1412.4 L1035.0 1402.8 L1039.2 1394.3 L1045.6 1386.9 L1051.9 1381.6 M1062.5 1390.1 L1067.9 1385.8 L1073.2 1383.7 M1078.5 1371.0 L1082.7 1374.2 L1090.1 1364.6 L1096.5 1363.6 L1105.0 1371.0 L1110.3 1368.9 L1113.5 1359.3 M1128.3 1360.4 L1134.7 1356.1 L1140.0 1359.3 M1148.5 1359.3 L1155.9 1349.8 L1163.3 1354.0 L1170.8 1356.1 L1177.8 1351.5 L1180.3 1358.2 L1183.5 1367.8 M1195.6 1367.8 L1200.5 1376.3 M1212.1 1373.1 L1215.3 1379.5 L1224.9 1365.7 L1231.2 1368.9 L1236.6 1364.6 L1248.2 1376.3 M1255.6 1354.0 L1259.9 1356.1 L1262.0 1362.5 M1272.6 1377.3 L1279.0 1369.9 L1286.4 1376.3 L1291.7 1376.3 L1301.3 1367.8 L1309.8 1364.6 L1318.2 1365.7 M1329.9 1372.0 L1336.3 1365.7 M1349.0 1354.0 L1354.3 1373.1 L1360.7 1354.0 L1368.1 1350.8 L1374.5 1354.0 M1389.3 1344.5 L1395.7 1340.2 L1402.1 1342.3 M1419.0 1344.5 L1423.3 1354.0 L1429.7 1332.8 L1432.8 1348.7 L1438.1 1347.6 M1454.1 1338.1 L1461.5 1341.3 L1466.8 1338.1 M1479.5 1331.7 L1483.8 1338.1 L1493.3 1316.9 L1497.6 1341.3 L1503.9 1322.2 M1511.4 1310.5 L1515.6 1303.1 L1519.8 1315.8 L1526.2 1322.2 L1536.8 1320.1 L1540.0 1311.6 M1540.0 1314.6 L1541.1 1312.5 M1551.7 1308.2 L1558.0 1307.2 L1561.2 1302.3 M1569.7 1314.6 L1578.2 1305.1 L1584.6 1298.7 L1589.9 1304.0 L1595.6 1287.0 L1599.4 1291.3 M1608.3 1274.3 L1613.2 1278.5 M1618.9 1279.6 L1621.7 1272.2 L1632.3 1278.5 L1638.7 1270.1 L1644.0 1257.3 L1648.2 1248.8 M1655.6 1248.8 L1661.0 1245.6 M1667.3 1251.0 L1671.6 1244.6 L1675.8 1247.8 L1684.3 1236.1 L1691.7 1245.6 L1694.5 1240.8 M1704.5 1234.0 L1708.7 1240.3 M1719.9 1222.7 L1728.9 1231.9 L1737.3 1220.2 L1749.0 1214.9 L1755.4 1218.1 L1760.7 1211.7 M1772.4 1222.3 L1776.6 1208.5 M1790.4 1206.4 L1794.6 1200.0 L1799.9 1212.8 L1804.2 1210.6 L1809.5 1197.9 L1814.8 1199.0 L1819.7 1193.0 M1837.1 1200.0 L1846.6 1192.0 M1862.5 1191.5 L1867.9 1184.1 L1873.2 1185.6 L1879.1 1176.3 L1888.0 1182.0 L1894.4 1177.7 L1900.7 1183.1 M1912.8 1175.6 L1916.7 1182.0 L1922.0 1180.5 M1930.0 1173.4 L1935.8 1165.3 L1941.7 1167.6 L1947.5 1161.8 L1953.3 1164.1 L1959.2 1158.9 L1972.0 1160.6 M1986.0 1165.3 L1991.2 1168.8 L1993.5 1164.6 M2002.4 1155.9 L2007.0 1141.9 L2015.2 1146.6 L2023.4 1152.4 L2026.9 1143.1 L2031.5 1137.2 M2043.2 1139.6 L2047.9 1133.7 L2052.5 1132.6 M2057.2 1129.1 L2061.9 1124.4 L2068.9 1127.9 L2074.7 1120.9 L2081.7 1125.6 L2089.9 1113.9 M2106.2 1108.1 L2113.2 1108.1 L2116.7 1112.7 M2121.4 1108.1 L2129.6 1096.4 L2141.2 1108.1 L2148.2 1098.7 L2154.1 1090.6 M2166.9 1094.1 L2172.8 1102.2 L2175.1 1098.7 M2186.8 1087.1 L2193.8 1091.7 L2199.6 1074.2 L2205.4 1089.4 L2212.4 1080.1 M2225.3 1073.1 L2231.1 1076.6 L2234.6 1069.5 M2241.6 1067.2 L2246.3 1052.0 L2253.3 1070.7 L2258.0 1053.2 M2267.3 1068.4 L2273.1 1059.0 M2283.6 1053.2 L2289.5 1032.2 L2296.5 1049.7 L2302.3 1048.5 L2308.1 1043.9 M2323.3 1052.0 L2325.6 1039.2 M2331.5 1029.9 L2338.5 1031.0 L2344.3 1011.2 L2350.2 1022.9 L2357.2 1013.5 M353.6 1903.4 L355.5 1883.1 L358.9 1854.2" stroke="#0000ff" stroke-width="5" stroke-linecap="round"/>
<path d="M502.3 1784.2 L503.8 1782.1 M511.9 1771.5 L516.1 1773.6 L520.4 1766.2 M531.0 1763.0 L537.3 1751.3 L541.6 1740.7 L548.0 1748.1 L552.2 1734.3 L556.4 1730.1 M570.2 1717.3 L574.5 1715.2 L576.6 1707.8 M588.3 1692.9 L595.7 1681.3 L601.0 1666.4 L608.4 1657.9 L613.7 1645.2 M624.4 1625.0 L630.7 1613.4 M637.1 1592.1 L644.5 1591.1 L648.8 1559.3 L656.2 1554.0 M662.5 1531.7 L667.9 1522.1 M732.6 1344.9 L726.2 1368.3 L719.8 1389.5 L713.5 1395.9 M703.9 1418.1 L698.6 1428.8 M693.3 1452.1 L688.0 1470.1 L680.6 1474.4 L676.3 1499.8 M786.4 1184.1 L792.8 1167.1 L798.1 1148.0 L801.3 1132.1 M808.1 1110.9 L811.5 1098.1 M818.2 1076.9 L823.6 1061.0 L831.0 1048.3 L836.3 1033.4 L839.5 1026.0 M849.0 1009.0 L852.8 996.3 M860.1 981.4 L862.8 966.6 L868.1 975.1 L873.4 963.4 L879.8 964.5 L886.2 957.0 M898.5 956.0 L903.1 968.7 M911.0 987.8 L916.9 1001.6 L921.2 1031.3 L928.6 1039.8 M931.1 1062.1 L934.5 1074.8 M939.2 1096.0 L942.4 1118.3 L947.7 1151.2 M951.9 1172.4 L955.5 1185.1 M777.8 1204.4 L773.5 1218.2 M765.9 1238.4 L761.2 1256.4 L757.0 1269.1 L750.6 1279.7 L748.1 1290.3 M960.7 1206.5 L964.9 1228.8 L969.2 1250.0 L972.4 1261.7 M976.2 1282.9 L979.4 1295.6 M985.7 1316.9 L990.4 1332.8 L996.8 1338.1 L998.9 1354.0 L1001.0 1367.8 M1005.3 1389.0 L1012.7 1400.7 M1020.1 1420.8 L1023.3 1431.5 L1028.6 1429.3 L1033.9 1451.6 L1039.2 1444.2 M1046.6 1464.4 L1049.8 1478.1 M1065.7 1488.8 L1071.0 1503.6 L1081.6 1504.7 L1086.9 1520.6 L1093.3 1514.2 M1107.1 1532.3 L1112.4 1543.9 M1124.1 1546.0 L1130.5 1534.4 L1135.8 1555.6 L1140.0 1553.5 M1140.0 1552.4 L1146.4 1543.9 M1161.2 1550.3 L1167.6 1560.9 M1171.8 1540.7 L1175.0 1539.7 L1179.3 1549.2 L1184.6 1548.2 L1190.9 1553.5 L1201.5 1551.4 L1205.8 1550.3 L1209.0 1563.0 M1217.5 1547.1 L1224.9 1554.5 M1235.5 1552.4 L1241.9 1551.4 L1248.2 1559.8 L1254.6 1548.2 L1263.1 1554.5 L1268.4 1550.3 M1281.1 1550.3 L1290.7 1540.7 M1304.5 1552.4 L1316.1 1542.9 L1322.5 1554.5 L1327.8 1540.7 L1337.3 1538.6 M1350.1 1540.7 L1353.3 1526.9 M1367.1 1535.4 L1371.3 1536.5 L1376.6 1523.8 L1387.2 1531.2 L1396.8 1526.9 L1403.1 1513.2 M1422.2 1519.5 L1428.6 1520.6 L1435.0 1516.3 M1442.4 1520.6 L1449.8 1508.9 L1457.2 1517.4 L1462.5 1510.0 L1467.9 1517.4 L1474.2 1510.0 M1489.1 1515.3 L1493.3 1515.3 L1500.7 1520.6 M1505.0 1502.5 L1513.5 1505.7 L1522.0 1506.8 L1528.3 1503.6 L1532.6 1491.9 L1540.0 1498.3 M1540.0 1499.2 L1546.4 1496.0 M1554.9 1488.6 L1560.2 1492.9 M1570.8 1497.1 L1579.3 1488.6 L1589.9 1498.2 L1596.2 1487.6 L1600.5 1490.7 L1603.7 1483.3 M1615.3 1474.8 L1620.6 1472.7 L1623.8 1476.9 M1631.2 1483.3 L1637.6 1474.8 L1647.2 1470.6 L1654.6 1476.9 L1663.1 1473.8 L1670.5 1466.3 L1675.8 1470.6 M1691.7 1469.5 L1698.1 1465.3 L1701.3 1467.4 M1711.9 1468.5 L1718.2 1465.3 L1724.6 1471.6 L1729.9 1467.4 L1734.2 1452.5 L1743.7 1452.5 L1751.1 1455.7 M1760.7 1457.9 L1767.1 1468.5 M1775.5 1444.1 L1781.9 1450.4 L1796.8 1453.6 L1804.2 1447.2 L1809.5 1452.5 L1816.9 1450.4 M1828.6 1435.6 L1835.0 1434.5 L1841.3 1438.8 M1859.4 1436.6 L1867.9 1431.3 L1878.5 1432.4 L1883.8 1422.8 L1890.1 1422.8 L1897.6 1415.4 M1913.5 1423.9 L1920.9 1412.2 M1933.5 1419.4 L1938.2 1413.6 L1945.2 1415.9 L1953.3 1407.7 L1959.2 1412.4 L1965.0 1404.2 M1983.2 1400.7 L1991.2 1411.2 M2001.9 1403.1 L2007.0 1411.2 L2016.4 1403.1 L2026.9 1394.9 L2033.9 1399.6 L2043.2 1398.4 M2057.9 1386.7 L2064.2 1389.1 L2068.9 1393.7 M2085.2 1385.6 L2092.2 1397.2 L2101.6 1391.4 L2108.6 1382.1 L2113.2 1387.9 L2119.5 1384.4 M2131.9 1393.7 L2135.4 1387.9 L2142.4 1385.6 M2156.4 1385.6 L2166.9 1372.7 L2176.3 1383.2 L2185.6 1376.2 L2194.9 1368.5 M2203.1 1366.2 L2208.9 1371.6 L2212.9 1368.5 M2231.1 1364.6 L2236.9 1382.1 L2244.0 1366.9 L2252.1 1364.6 L2261.5 1358.7 M2267.3 1376.2 L2276.6 1365.7 M2293.0 1366.9 L2300.0 1351.7 L2308.1 1362.2 L2317.5 1364.6 M2332.0 1355.9 L2345.5 1352.2" stroke="#ff0000" stroke-width="5" stroke-linecap="round"/>
</g>
<path d="M410.8 277.8H694.2" stroke="#0000ff" stroke-width="12.3" fill="none"/>
<path d="M410.8 433.8H694.2" stroke="#ff0000" stroke-width="12.3" fill="none"/>
<path d="M410.8 590H694.2" stroke="#0000ff" stroke-width="4.5" stroke-dasharray="58.3 19.7 15.2 19.7" fill="none"/>
<path d="M410.8 746.3H694.2" stroke="#ff0000" stroke-width="4.5" stroke-dasharray="58.3 19.7 15.2 19.7" fill="none"/>
<g id="legend">
<text transform="matrix(0.7383 0 0 0.6365 716.41 308.27)" font-family="'Liberation Serif', 'DejaVu Serif', serif" font-size="200" fill="#000" font-style="italic">ϕ</text>
<text transform="matrix(0.9183 0 0 0.6280 823.62 318.35)" font-family="'Liberation Serif', 'DejaVu Serif', serif" font-size="200" fill="#000">=</text>
<text transform="matrix(0.6393 0 0 0.6489 0 310.40)" x="1501.81 1604.16 1654.06 1753.70 1854.06" y="0" font-family="'Liberation Serif', 'DejaVu Serif', serif" font-size="200" fill="#000" stroke="#000" stroke-width="1.40" stroke-linejoin="round" vector-effect="non-scaling-stroke">0.116</text>
<text transform="matrix(0.5931 0 0 0.7529 1254.21 309.86)" font-family="'Liberation Serif', 'DejaVu Serif', serif" font-size="200" fill="#000" stroke="#000" stroke-width="0.70" stroke-linejoin="round" vector-effect="non-scaling-stroke">,</text>
<text transform="matrix(0.7149 0 0 0.6406 1326.84 310.32)" font-family="'Liberation Serif', 'DejaVu Serif', serif" font-size="200" fill="#000" font-style="italic">ε</text>
<text transform="matrix(0.5500 0 0 0.4527 1383.70 328.55)" font-family="'Liberation Serif', 'DejaVu Serif', serif" font-size="200" fill="#000" font-style="italic">r</text>
<text transform="matrix(0.9269 0 0 0.6280 1467.53 318.35)" font-family="'Liberation Serif', 'DejaVu Serif', serif" font-size="200" fill="#000">=</text>
<text transform="matrix(0.6393 0 0 0.6489 0 310.40)" x="2511.44 2607.31" y="0" font-family="'Liberation Serif', 'DejaVu Serif', serif" font-size="200" fill="#000" stroke="#000" stroke-width="1.40" stroke-linejoin="round" vector-effect="non-scaling-stroke">24</text>
<text transform="matrix(0.7383 0 0 0.6365 716.41 464.27)" font-family="'Liberation Serif', 'DejaVu Serif', serif" font-size="200" fill="#000" font-style="italic">ϕ</text>
<text transform="matrix(0.9183 0 0 0.6280 823.62 474.35)" font-family="'Liberation Serif', 'DejaVu Serif', serif" font-size="200" fill="#000">=</text>
<text transform="matrix(0.6393 0 0 0.6489 0 466.40)" x="1501.81 1604.16 1658.06 1756.70 1855.56" y="0" font-family="'Liberation Serif', 'DejaVu Serif', serif" font-size="200" fill="#000" stroke="#000" stroke-width="1.40" stroke-linejoin="round" vector-effect="non-scaling-stroke">0.208</text>
<text transform="matrix(0.5931 0 0 0.7529 1254.21 465.86)" font-family="'Liberation Serif', 'DejaVu Serif', serif" font-size="200" fill="#000" stroke="#000" stroke-width="0.70" stroke-linejoin="round" vector-effect="non-scaling-stroke">,</text>
<text transform="matrix(0.7149 0 0 0.6406 1326.84 466.32)" font-family="'Liberation Serif', 'DejaVu Serif', serif" font-size="200" fill="#000" font-style="italic">ε</text>
<text transform="matrix(0.5500 0 0 0.4527 1383.70 484.55)" font-family="'Liberation Serif', 'DejaVu Serif', serif" font-size="200" fill="#000" font-style="italic">r</text>
<text transform="matrix(0.9269 0 0 0.6280 1467.53 474.35)" font-family="'Liberation Serif', 'DejaVu Serif', serif" font-size="200" fill="#000">=</text>
<text transform="matrix(0.6393 0 0 0.6489 0 466.40)" x="2511.44 2607.31" y="0" font-family="'Liberation Serif', 'DejaVu Serif', serif" font-size="200" fill="#000" stroke="#000" stroke-width="1.40" stroke-linejoin="round" vector-effect="non-scaling-stroke">24</text>
<text transform="matrix(0.7383 0 0 0.6365 716.41 620.27)" font-family="'Liberation Serif', 'DejaVu Serif', serif" font-size="200" fill="#000" font-style="italic">ϕ</text>
<text transform="matrix(0.9183 0 0 0.6280 823.62 630.35)" font-family="'Liberation Serif', 'DejaVu Serif', serif" font-size="200" fill="#000">=</text>
<text transform="matrix(0.6393 0 0 0.6489 0 622.40)" x="1501.81 1604.16 1654.06 1753.70 1854.06" y="0" font-family="'Liberation Serif', 'DejaVu Serif', serif" font-size="200" fill="#000" stroke="#000" stroke-width="1.40" stroke-linejoin="round" vector-effect="non-scaling-stroke">0.116</text>
<text transform="matrix(0.5931 0 0 0.7529 1254.21 621.86)" font-family="'Liberation Serif', 'DejaVu Serif', serif" font-size="200" fill="#000" stroke="#000" stroke-width="0.70" stroke-linejoin="round" vector-effect="non-scaling-stroke">,</text>
<text transform="matrix(0.7149 0 0 0.6406 1326.84 622.32)" font-family="'Liberation Serif', 'DejaVu Serif', serif" font-size="200" fill="#000" font-style="italic">ε</text>
<text transform="matrix(0.5500 0 0 0.4527 1383.70 640.55)" font-family="'Liberation Serif', 'DejaVu Serif', serif" font-size="200" fill="#000" font-style="italic">r</text>
<text transform="matrix(0.9269 0 0 0.6280 1467.53 630.35)" font-family="'Liberation Serif', 'DejaVu Serif', serif" font-size="200" fill="#000">=</text>
<text transform="matrix(0.6393 0 0 0.6489 0 622.40)" x="2508.36 2609.22" y="0" font-family="'Liberation Serif', 'DejaVu Serif', serif" font-size="200" fill="#000" stroke="#000" stroke-width="1.40" stroke-linejoin="round" vector-effect="non-scaling-stroke">50</text>
<text transform="matrix(0.7383 0 0 0.6365 716.41 776.27)" font-family="'Liberation Serif', 'DejaVu Serif', serif" font-size="200" fill="#000" font-style="italic">ϕ</text>
<text transform="matrix(0.9183 0 0 0.6280 823.62 786.35)" font-family="'Liberation Serif', 'DejaVu Serif', serif" font-size="200" fill="#000">=</text>
<text transform="matrix(0.6393 0 0 0.6489 0 778.40)" x="1501.81 1604.16 1658.06 1756.70 1855.56" y="0" font-family="'Liberation Serif', 'DejaVu Serif', serif" font-size="200" fill="#000" stroke="#000" stroke-width="1.40" stroke-linejoin="round" vector-effect="non-scaling-stroke">0.208</text>
<text transform="matrix(0.5931 0 0 0.7529 1254.21 777.86)" font-family="'Liberation Serif', 'DejaVu Serif', serif" font-size="200" fill="#000" stroke="#000" stroke-width="0.70" stroke-linejoin="round" vector-effect="non-scaling-stroke">,</text>
<text transform="matrix(0.7149 0 0 0.6406 1326.84 778.32)" font-family="'Liberation Serif', 'DejaVu Serif', serif" font-size="200" fill="#000" font-style="italic">ε</text>
<text transform="matrix(0.5500 0 0 0.4527 1383.70 796.55)" font-family="'Liberation Serif', 'DejaVu Serif', serif" font-size="200" fill="#000" font-style="italic">r</text>
<text transform="matrix(0.9269 0 0 0.6280 1467.53 786.35)" font-family="'Liberation Serif', 'DejaVu Serif', serif" font-size="200" fill="#000">=</text>
<text transform="matrix(0.6393 0 0 0.6489 0 778.40)" x="2508.36 2609.22" y="0" font-family="'Liberation Serif', 'DejaVu Serif', serif" font-size="200" fill="#000" stroke="#000" stroke-width="1.40" stroke-linejoin="round" vector-effect="non-scaling-stroke">50</text>
</g>
<g id="labels">
<text transform="matrix(0.6673 0 0 0.6343 166.53 130.00)" font-family="'Noto Sans CJK SC', 'Liberation Sans', 'DejaVu Sans', sans-serif" font-size="200" fill="#1a1a1a" stroke="#1a1a1a" stroke-width="1.00" stroke-linejoin="round" vector-effect="non-scaling-stroke">4</text>
<text transform="matrix(0.5787 0 0 0.6216 171.43 587.14)" font-family="'Noto Sans CJK SC', 'Liberation Sans', 'DejaVu Sans', sans-serif" font-size="200" fill="#1a1a1a" stroke="#1a1a1a" stroke-width="1.00" stroke-linejoin="round" vector-effect="non-scaling-stroke">3</text>
<text transform="matrix(0.6172 0 0 0.6345 168.46 1046.70)" font-family="'Noto Sans CJK SC', 'Liberation Sans', 'DejaVu Sans', sans-serif" font-size="200" fill="#1a1a1a" stroke="#1a1a1a" stroke-width="1.00" stroke-linejoin="round" vector-effect="non-scaling-stroke">2</text>
<text transform="matrix(0.6780 0 0 0.6209 165.62 1960.34)" font-family="'Noto Sans CJK SC', 'Liberation Sans', 'DejaVu Sans', sans-serif" font-size="200" fill="#1a1a1a" stroke="#1a1a1a" stroke-width="1.00" stroke-linejoin="round" vector-effect="non-scaling-stroke">0</text>
<text transform="matrix(0.6780 0 0 0.6230 283.32 2089.23)" font-family="'Noto Sans CJK SC', 'Liberation Sans', 'DejaVu Sans', sans-serif" font-size="200" fill="#1a1a1a" stroke="#1a1a1a" stroke-width="1.00" stroke-linejoin="round" vector-effect="non-scaling-stroke">0</text>
<text transform="matrix(0.6172 0 0 0.6297 1604.96 2089.70)" font-family="'Noto Sans CJK SC', 'Liberation Sans', 'DejaVu Sans', sans-serif" font-size="200" fill="#1a1a1a" stroke="#1a1a1a" stroke-width="1.00" stroke-linejoin="round" vector-effect="non-scaling-stroke">2</text>
<text transform="matrix(0.5809 0 0 0.6230 2266.01 2089.23)" font-family="'Noto Sans CJK SC', 'Liberation Sans', 'DejaVu Sans', sans-serif" font-size="200" fill="#1a1a1a" stroke="#1a1a1a" stroke-width="1.00" stroke-linejoin="round" vector-effect="non-scaling-stroke">3</text>
<text transform="matrix(0.7000 0 0 0.6343 164.20 1504.30)" font-family="'Noto Sans CJK SC', 'Liberation Sans', 'DejaVu Sans', sans-serif" font-size="200" fill="#1a1a1a" stroke="#1a1a1a" stroke-width="1.00" stroke-linejoin="round" vector-effect="non-scaling-stroke">1</text>
<text transform="matrix(0.7000 0 0 0.6385 942.10 2089.70)" font-family="'Noto Sans CJK SC', 'Liberation Sans', 'DejaVu Sans', sans-serif" font-size="200" fill="#1a1a1a" stroke="#1a1a1a" stroke-width="1.00" stroke-linejoin="round" vector-effect="non-scaling-stroke">1</text>
<text transform="matrix(0.7095 0 0 0.6323 1573.96 1672.34)" font-family="'Liberation Serif', 'DejaVu Serif', serif" font-size="200" fill="#000" font-style="italic">ε</text>
<text transform="matrix(0.5714 0 0 0.4946 1631.13 1690.49)" font-family="'Liberation Serif', 'DejaVu Serif', serif" font-size="200" fill="#000" font-style="italic">r</text>
<text transform="matrix(0.5000 0 0 0.4752 1714.50 1668.87)" font-family="'Noto Sans CJK SC', 'Liberation Sans', 'DejaVu Sans', sans-serif" font-size="200" fill="#000">:</text>
<text transform="matrix(0.5034 0 0 0.4883 1761.84 1668.55)" font-family="'Noto Sans CJK SC', 'Liberation Sans', 'DejaVu Sans', sans-serif" font-size="200" fill="#000" stroke="#000" stroke-width="1.00" stroke-linejoin="round" vector-effect="non-scaling-stroke">polymer</text>
<text transform="matrix(0.5005 0 0 0.4938 1762.89 1804.02)" font-family="'Noto Sans CJK SC', 'Liberation Sans', 'DejaVu Sans', sans-serif" font-size="200" fill="#000" stroke="#000" stroke-width="1.00" stroke-linejoin="round" vector-effect="non-scaling-stroke">dielectric</text>
<text transform="matrix(0.6654 0 0 0.7500 1260.41 2262.90)" font-family="'Liberation Serif', 'DejaVu Serif', serif" font-size="200" fill="#1a1a1a" font-style="italic" stroke="#1a1a1a" stroke-width="1.20" stroke-linejoin="round" vector-effect="non-scaling-stroke">ϵ</text>
<text transform="matrix(0.6393 0 0 0.5802 1326.28 2289.00)" font-family="'Liberation Serif', 'DejaVu Serif', serif" font-size="200" fill="#1a1a1a" font-style="italic">x</text>
<text transform="matrix(0.6427 0 0 0.5802 1390.29 2289.00)" font-family="'Liberation Serif', 'DejaVu Serif', serif" font-size="200" fill="#1a1a1a" font-style="italic">x</text>
<text transform="rotate(-90) matrix(0.8636 0 0 0.6790 -1090.23 81.69)" font-family="'Liberation Serif', 'DejaVu Serif', serif" font-size="200" fill="#1a1a1a" font-style="italic" stroke="#1a1a1a" stroke-width="1.50" stroke-linejoin="round" vector-effect="non-scaling-stroke">σ</text>
<text transform="rotate(-90) matrix(0.6438 0 0 0.5758 -996.01 107.10)" font-family="'Liberation Serif', 'DejaVu Serif', serif" font-size="200" fill="#1a1a1a" font-style="italic">x</text>
<text transform="rotate(-90) matrix(0.6360 0 0 0.5758 -931.33 107.10)" font-family="'Liberation Serif', 'DejaVu Serif', serif" font-size="200" fill="#1a1a1a" font-style="italic">x</text>
</g>
</svg></body></html>
